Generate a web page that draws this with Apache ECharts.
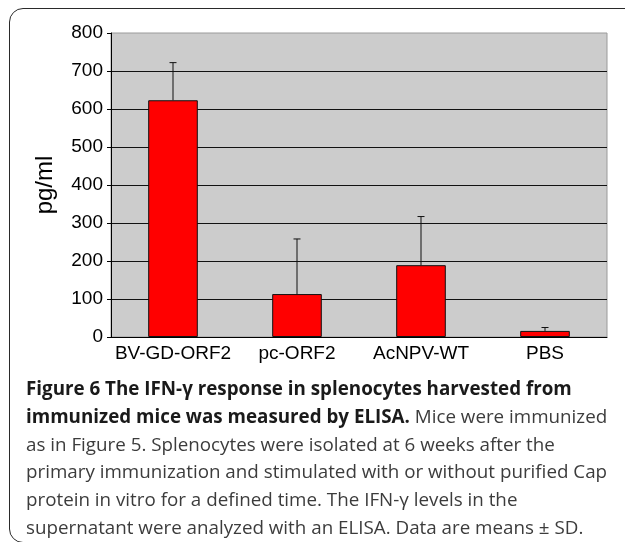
<!DOCTYPE html>
<html>
<head>
<meta charset="utf-8">
<script src="https://cdn.jsdelivr.net/npm/echarts@6/dist/echarts.min.js"></script>
<style>
  body { margin: 0; background: #fff; overflow: hidden; }
  #frame { position: absolute; left: 9px; top: 8px; width: 660px; height: 533px;
           border: 1.5px solid #2a2a2a; border-radius: 14px; }
  #main { position: absolute; left: 0; top: 0; width: 625px; height: 542px; }
  #caption { position: absolute; left: 26px; top: 375px; font-family: "Open Sans", sans-serif;
             font-size: 18.8px; line-height: 27.8px; color: #3c3c3c; white-space: nowrap; }
  #caption b { color: #1a1a1a; }
</style>
</head>
<body>
<div id="frame"></div>
<div id="main"></div>
<div id="caption">
  <b>Figure 6 The IFN-γ response in splenocytes harvested from</b><br>
  <b>immunized mice was measured by ELISA.</b> Mice were immunized<br>
  as in Figure 5. Splenocytes were isolated at 6 weeks after the<br>
  primary immunization and stimulated with or without purified Cap<br>
  protein in vitro for a defined time. The IFN-γ levels in the<br>
  supernatant were analyzed with an ELISA. Data are means ± SD.
</div>
<script>
var groups = ['BV-GD-ORF2', 'pc-ORF2', 'AcNPV-WT', 'PBS'];
var means = [623, 113, 189, 16];
var sds = [99, 145, 128, 9];
var yTicks = [0, 100, 200, 300, 400, 500, 600, 700, 800];

var chart = echarts.init(document.getElementById('main'));

// black grid lines except the top one, which is the plot border
var gridColors = yTicks.map(function (t, i) { return i === yTicks.length - 1 ? 'rgba(0,0,0,0)' : '#111'; });

chart.setOption({
  animation: false,
  grid: {
    left: 111, right: 18, top: 33, bottom: 205,
    show: true, backgroundColor: '#cccccc', borderColor: '#9a9a9a', borderWidth: 1
  },
  xAxis: {
    type: 'category',
    data: groups,
    axisLine: { lineStyle: { color: '#000', width: 1 } },
    axisTick: { show: false },
    axisLabel: { interval: 0, color: '#000', fontFamily: 'Liberation Sans, Arial', fontSize: 19, margin: 7 }
  },
  yAxis: {
    type: 'value',
    min: 0, max: 800, interval: 100,
    name: 'pg/ml',
    nameLocation: 'middle',
    nameGap: 54,
    nameTextStyle: { color: '#000', fontFamily: 'Liberation Sans, Arial', fontSize: 24 },
    axisLine: { show: true, lineStyle: { color: '#000', width: 1 } },
    axisTick: { show: true, length: 4, lineStyle: { color: '#000' } },
    axisLabel: { color: '#000', fontFamily: 'Liberation Sans, Arial', fontSize: 19, margin: 8 },
    splitLine: { show: true, lineStyle: { color: gridColors, width: 1 } }
  },
  series: [
    {
      type: 'bar',
      data: means,
      barWidth: '40%',
      itemStyle: { color: '#ff0000', borderColor: '#111', borderWidth: 1 },
      z: 2
    },
    {
      type: 'custom',
      data: means.map(function (m, i) { return [i, m, m + sds[i]]; }),
      renderItem: function (params, api) {
        var base = api.coord([api.value(0), api.value(1)]);
        var top = api.coord([api.value(0), api.value(2)]);
        var half = 3.5;
        var style = { stroke: '#111', lineWidth: 1 };
        return {
          type: 'group',
          children: [
            { type: 'line', shape: { x1: base[0], y1: base[1], x2: top[0], y2: top[1] }, style: style },
            { type: 'line', shape: { x1: top[0] - half, y1: top[1], x2: top[0] + half, y2: top[1] }, style: style }
          ]
        };
      },
      z: 3
    }
  ]
});
</script>
</body>
</html>
